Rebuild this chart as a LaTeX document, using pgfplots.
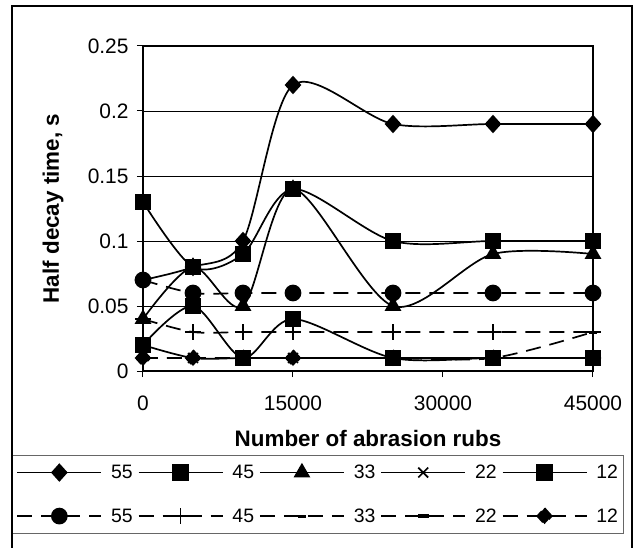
\documentclass[border=0pt]{standalone}
\usepackage{fontspec}
\setmainfont{Liberation Sans}
\usepackage{pgfplots}
\pgfplotsset{compat=1.18}

\begin{document}
\begin{tikzpicture}
\pgfplotsset{
  sline/.style={black, line width=1.7bp, smooth, tension=0.5, mark options={solid, fill=black}},
  dline/.style={black, line width=1.7bp, smooth, tension=0.5, dash pattern=on 15bp off 9bp, mark options={solid, fill=black}},
}
\begin{axis}[
  name=ax,
  scale only axis, width=450bp, height=325bp,
  xmin=0, xmax=45000, ymin=0, ymax=0.25,
  scaled x ticks=false, scaled y ticks=false,
  xtick={0,15000,30000,45000},
  xticklabels={0,15000,30000,45000},
  ytick={0,0.05,0.1,0.15,0.2,0.25},
  yticklabels={0,0.05,0.1,0.15,0.2,0.25},
  tick pos=left, tick align=outside, major tick length=6bp,
  tick style={black, line width=1bp},
  axis line style={line width=1.4bp},
  ymajorgrids, grid style={black, line width=0.8bp},
  ticklabel style={font=\fontsize{21}{21}\selectfont},
  yticklabel style={xshift=-5bp},
  xticklabel style={yshift=-15bp},
  xlabel={Number of abrasion rubs},
  ylabel={Half decay time, s},
  label style={font=\bfseries\fontsize{22.5}{22.5}\selectfont},
  xlabel style={at={(axis description cs:0.5,-0.208)}, anchor=center},
  ylabel style={at={(axis description cs:-0.2,0.5)}, anchor=center},
  clip=false,
  legend columns=5,
  legend image code/.code={\draw[mark repeat=2,mark phase=2,#1] plot coordinates {(0bp,0bp) (42bp,0bp) (84bp,0bp)};},
  legend style={at={(axis description cs:-0.2911,-0.2585)}, anchor=north west,
    draw=black!60, line width=1bp, font=\fontsize{19.5}{19.5}\selectfont,
    inner xsep=4bp, inner ysep=7.5bp, row sep=24.5bp,
    /tikz/every odd column/.append style={column sep=7bp},
    /tikz/every even column/.append style={column sep=3bp}},
]
% solid series
\addplot[sline, mark=diamond*, mark size=8bp, mark options={xscale=1.2}] coordinates {
  (0,0.07) (5000,0.08) (10000,0.1) (15000,0.22) (25000,0.19) (35000,0.19) (45000,0.19)};
\addlegendentry{55}
\addplot[sline, mark=square*, mark size=7.5bp] coordinates {
  (0,0.13) (5000,0.08) (10000,0.09) (15000,0.14) (25000,0.1) (35000,0.1) (45000,0.1)};
\addlegendentry{45}
\addplot[sline, mark=triangle*, mark size=8bp] coordinates {
  (0,0.04) (5000,0.08) (10000,0.05) (15000,0.14) (25000,0.05) (35000,0.09) (45000,0.09)};
\addlegendentry{33}
\addplot[sline, mark=x, mark size=7bp] coordinates {
  (0,0.02) (5000,0.01) (10000,0.01) (15000,0.01) (25000,0.01) (35000,0.01) (45000,0.01)};
\addlegendentry{22}
\addplot[sline, mark=square*, mark size=7.5bp] coordinates {
  (0,0.02) (5000,0.05) (10000,0.01) (15000,0.04) (25000,0.01) (35000,0.01) (45000,0.01)};
\addlegendentry{12}
% dashed series
\addplot[dline, mark=*, mark size=7.5bp] coordinates {
  (0,0.07) (5000,0.06) (10000,0.06) (15000,0.06) (25000,0.06) (35000,0.06) (45000,0.06)};
\addlegendentry{55}
\addplot[dline, mark=+, mark size=8bp] coordinates {
  (0,0.04) (5000,0.03) (10000,0.03) (15000,0.03) (25000,0.03) (35000,0.03) (45000,0.03)};
\addlegendentry{45}
\addplot[dline, mark=-, mark size=4bp, mark options={line width=3bp}] coordinates {
  (0,0.01) (5000,0.01) (10000,0.01) (15000,0.01) (25000,0.01) (35000,0.01) (45000,0.03)};
\addlegendentry{33}
\addplot[dline, mark=-, mark size=5.5bp, mark options={line width=4bp}] coordinates {
  (0,0.01) (5000,0.01) (10000,0.01) (15000,0.01) (25000,0.01) (35000,0.01) (45000,0.01)};
\addlegendentry{22}
\addplot[dline, mark=diamond*, mark size=8bp, mark options={xscale=1.2}] coordinates {
  (0,0.01) (5000,0.01) (10000,0.01) (15000,0.01) (25000,0.01) (35000,0.01) (45000,0.01)};
\addlegendentry{12}
\end{axis}
% outer frame and page, placed relative to the plot area corner
\draw[line width=1.3bp] ([shift={(-131bp,-177bp)}]ax.south west) -- ++(0bp,542bp) -- ++(620bp,0bp) -- ++(0bp,-542bp);
\pgfresetboundingbox
\path[use as bounding box] ([shift={(-143bp,-177bp)}]ax.south west) rectangle ++(635bp,548bp);
\end{tikzpicture}
\end{document}
